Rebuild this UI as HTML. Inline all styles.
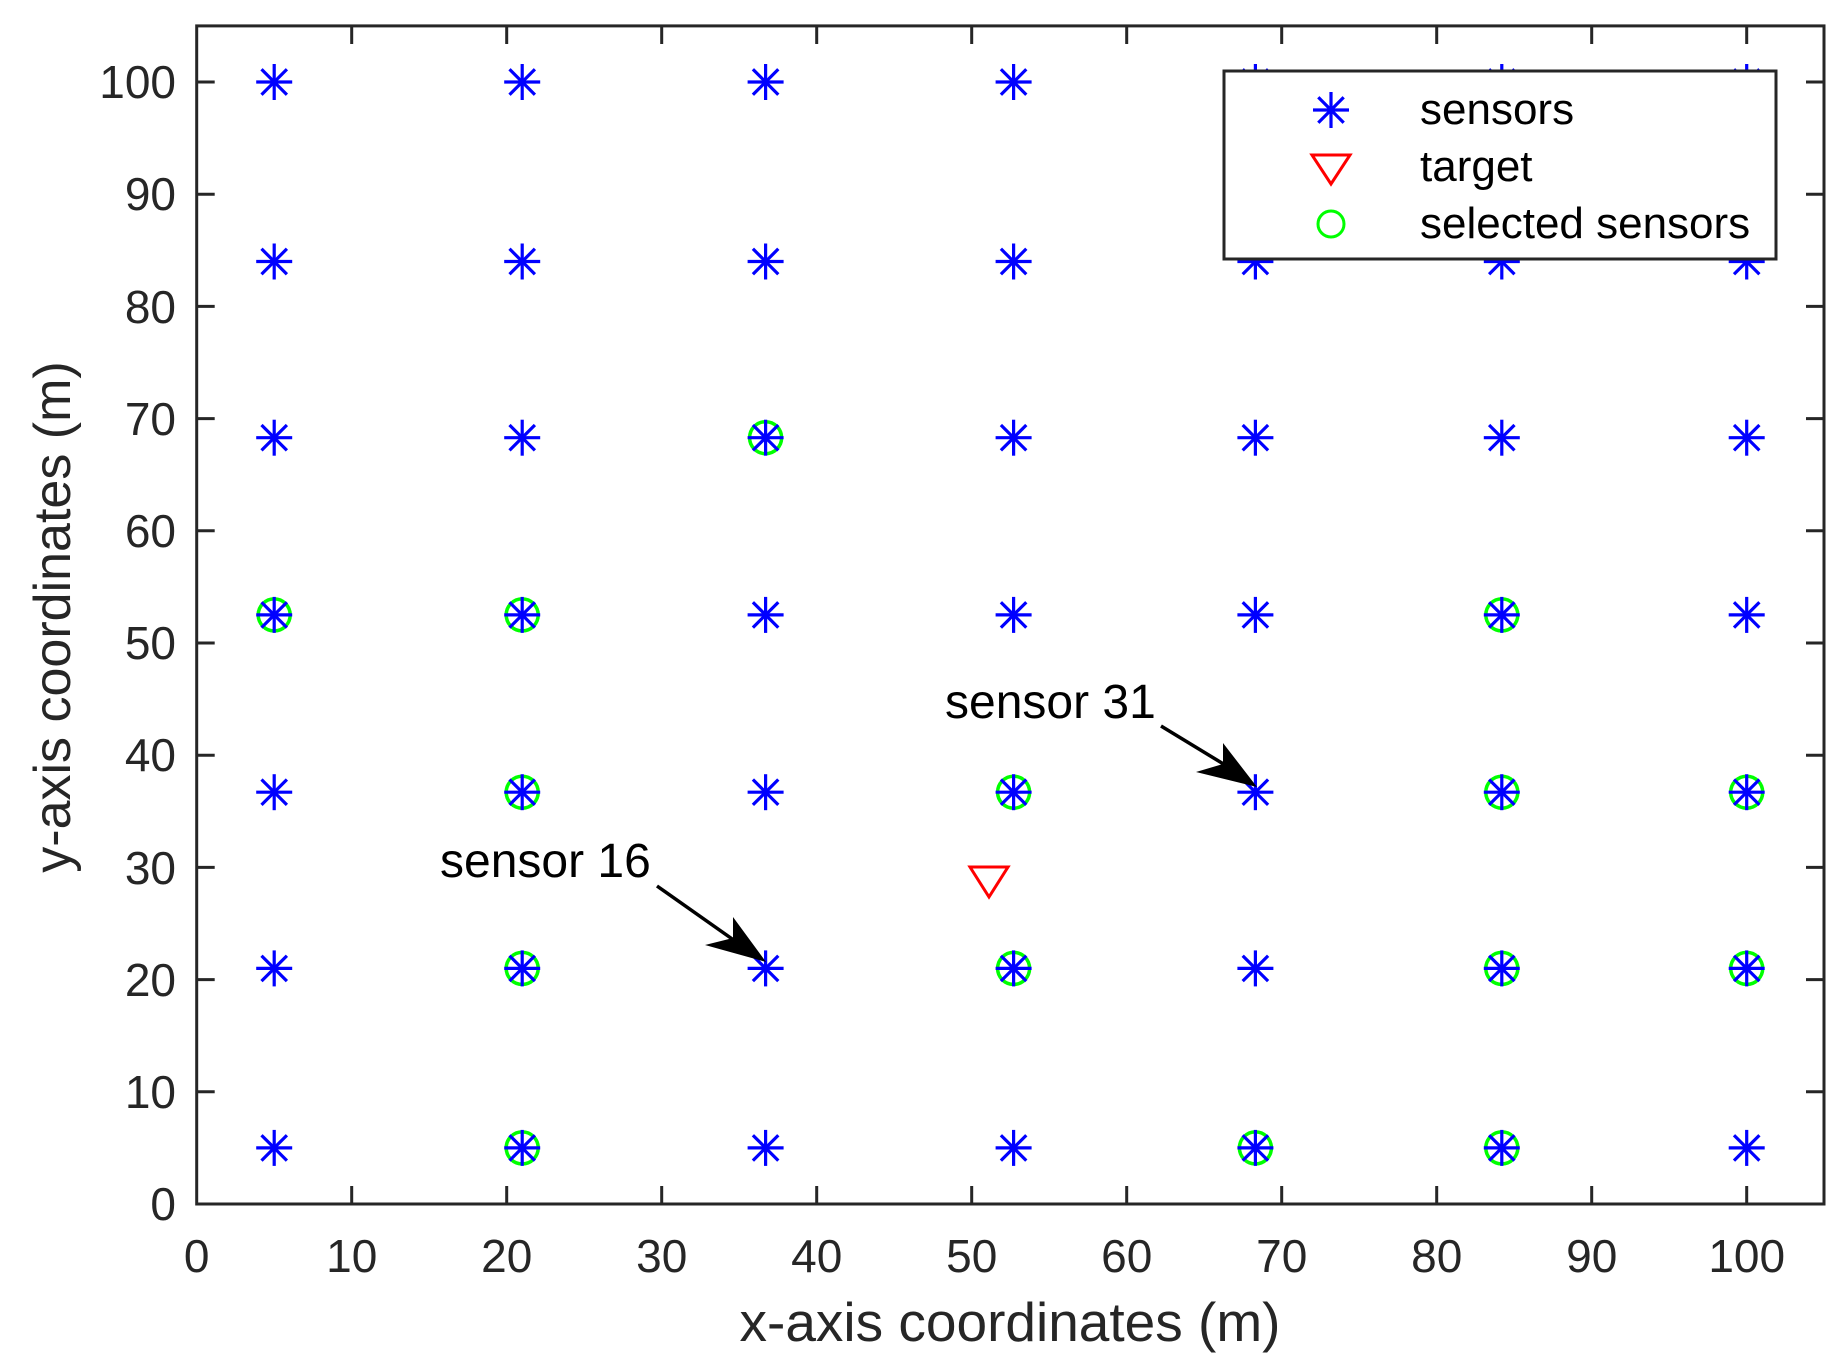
<!DOCTYPE html>
<html><head><meta charset="utf-8"><style>
html,body{margin:0;padding:0;background:#fff}
svg{display:block}
text{font-family:"Liberation Sans",Arial,sans-serif;fill:#262626}
</style></head><body>
<svg width="1842" height="1371" viewBox="0 0 1842 1371" xmlns="http://www.w3.org/2000/svg" xmlns:xlink="http://www.w3.org/1999/xlink">
<defs>
<g id="ast" stroke="#0000ff" stroke-width="3.2" fill="none">
<line x1="-18" y1="0" x2="18" y2="0"/><line x1="0" y1="-18" x2="0" y2="18"/>
<line x1="-12.7" y1="-12.7" x2="12.7" y2="12.7"/><line x1="-12.7" y1="12.7" x2="12.7" y2="-12.7"/>
</g>
<circle id="sel" r="16" fill="none" stroke="#00ff00" stroke-width="3.5"/>
<g id="col">
<use xlink:href="#ast" href="#ast" y="1147.9"/>
<use xlink:href="#ast" href="#ast" y="968.4"/>
<use xlink:href="#ast" href="#ast" y="792.2"/>
<use xlink:href="#ast" href="#ast" y="614.9"/>
<use xlink:href="#ast" href="#ast" y="437.7"/>
<use xlink:href="#ast" href="#ast" y="261.5"/>
<use xlink:href="#ast" href="#ast" y="82"/>
</g>
</defs>
<!-- selected -->
<use xlink:href="#sel" href="#sel" x="765.6" y="437.7"/>
<use xlink:href="#sel" href="#sel" x="274.2" y="614.9"/>
<use xlink:href="#sel" href="#sel" x="522.2" y="614.9"/>
<use xlink:href="#sel" href="#sel" x="1501.8" y="614.9"/>
<use xlink:href="#sel" href="#sel" x="522.2" y="792.2"/>
<use xlink:href="#sel" href="#sel" x="1013.6" y="792.2"/>
<use xlink:href="#sel" href="#sel" x="1501.8" y="792.2"/>
<use xlink:href="#sel" href="#sel" x="1746.7" y="792.2"/>
<use xlink:href="#sel" href="#sel" x="522.2" y="968.4"/>
<use xlink:href="#sel" href="#sel" x="1013.6" y="968.4"/>
<use xlink:href="#sel" href="#sel" x="1501.8" y="968.4"/>
<use xlink:href="#sel" href="#sel" x="1746.7" y="968.4"/>
<use xlink:href="#sel" href="#sel" x="522.2" y="1147.9"/>
<use xlink:href="#sel" href="#sel" x="1255.4" y="1147.9"/>
<use xlink:href="#sel" href="#sel" x="1501.8" y="1147.9"/>
<!-- sensors -->
<use xlink:href="#col" href="#col" x="274.2"/>
<use xlink:href="#col" href="#col" x="522.2"/>
<use xlink:href="#col" href="#col" x="765.6"/>
<use xlink:href="#col" href="#col" x="1013.6"/>
<use xlink:href="#col" href="#col" x="1255.4"/>
<use xlink:href="#col" href="#col" x="1501.8"/>
<use xlink:href="#col" href="#col" x="1746.7"/>
<!-- target -->
<polygon points="970,867 1008,867 989,897" fill="none" stroke="#ff0000" stroke-width="3"/>
<!-- arrows -->
<line x1="657" y1="886" x2="745" y2="948" stroke="#000" stroke-width="3.5"/>
<polygon points="766,962 705,945 733,938 733,917" fill="#000"/>
<line x1="1161" y1="726" x2="1235" y2="771" stroke="#000" stroke-width="3.5"/>
<polygon points="1257,787 1196,772 1223,764 1223,743" fill="#000"/>
<text x="440" y="877" font-size="48" style="fill:#000">sensor 16</text>
<text x="945" y="718" font-size="48" style="fill:#000">sensor 31</text>
<!-- legend -->
<rect x="1224" y="71" width="552" height="188" fill="#fff" stroke="#262626" stroke-width="3"/>
<use xlink:href="#ast" href="#ast" x="1331" y="110"/>
<polygon points="1312,155 1350,155 1331,184" fill="none" stroke="#ff0000" stroke-width="3"/>
<circle cx="1331" cy="224" r="13" fill="none" stroke="#00ff00" stroke-width="3"/>
<text x="1420" y="124" font-size="44" style="fill:#000">sensors</text>
<text x="1420" y="181" font-size="44" style="fill:#000">target</text>
<text x="1420" y="238" font-size="44" style="fill:#000">selected sensors</text>
<!-- axes -->
<g stroke="#262626" stroke-width="3" fill="none">
<rect x="196.7" y="25.9" width="1627.3" height="1178.1"/>
<path d="M351.7 1204v-18M506.7 1204v-18M661.7 1204v-18M816.7 1204v-18M971.7 1204v-18M1126.7 1204v-18M1281.7 1204v-18M1436.7 1204v-18M1591.7 1204v-18M1746.7 1204v-18
M351.7 26v18M506.7 26v18M661.7 26v18M816.7 26v18M971.7 26v18M1126.7 26v18M1281.7 26v18M1436.7 26v18M1591.7 26v18M1746.7 26v18
M196.7 1091.8h18M196.7 979.6h18M196.7 867.4h18M196.7 755.2h18M196.7 643h18M196.7 530.8h18M196.7 418.6h18M196.7 306.4h18M196.7 194.2h18M196.7 82h18
M1824 1091.8h-18M1824 979.6h-18M1824 867.4h-18M1824 755.2h-18M1824 643h-18M1824 530.8h-18M1824 418.6h-18M1824 306.4h-18M1824 194.2h-18M1824 82h-18"/>
</g>
<g font-size="46" text-anchor="middle">
<text x="196.7" y="1272">0</text><text x="351.7" y="1272">10</text><text x="506.7" y="1272">20</text><text x="661.7" y="1272">30</text><text x="816.7" y="1272">40</text><text x="971.7" y="1272">50</text><text x="1126.7" y="1272">60</text><text x="1281.7" y="1272">70</text><text x="1436.7" y="1272">80</text><text x="1591.7" y="1272">90</text><text x="1746.7" y="1272">100</text>
</g>
<g font-size="46" text-anchor="end">
<text x="176" y="1220">0</text><text x="176" y="1108">10</text><text x="176" y="996">20</text><text x="176" y="884">30</text><text x="176" y="771">40</text><text x="176" y="659">50</text><text x="176" y="547">60</text><text x="176" y="435">70</text><text x="176" y="323">80</text><text x="176" y="210">90</text><text x="176" y="98">100</text>
</g>
<text x="1010" y="1341" font-size="55" text-anchor="middle">x-axis coordinates (m)</text>
<text transform="translate(70,617) rotate(-90)" font-size="52" text-anchor="middle">y-axis coordinates (m)</text>
</svg>
</body></html>
